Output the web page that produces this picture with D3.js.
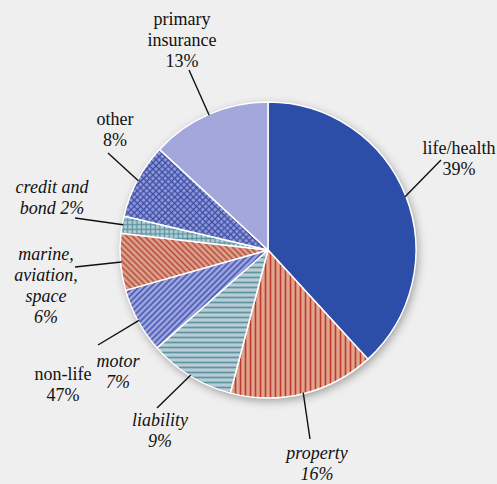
<!DOCTYPE html>
<html>
<head>
<meta charset="utf-8">
<script src="https://cdn.jsdelivr.net/npm/d3@7"></script>
<style>
  html, body { margin: 0; padding: 0; background: #efefef; }
  svg { display: block; }
  .lbl { font-family: "Liberation Serif", "Times New Roman", serif; font-size: 18px; fill: #111; }
  .leader { stroke: #111; stroke-width: 1.4; fill: none; }
</style>
</head>
<body>
<svg id="svg" width="497" height="484"></svg>
<script>
// --- Data ------------------------------------------------------------------
const segments = ["life/health", "property", "liability", "motor", "marine", "credit", "other", "primary"];
const shares = [38.2, 15.9, 9.4, 7.1, 6.2, 1.9, 8.2, 13.1];
const labelLines = [
  ["life/health", "39%"],
  ["property", "16%"],
  ["liability", "9%"],
  ["motor", "7%"],
  ["marine,", "aviation,", "space", "6%"],
  ["credit and", "bond 2%"],
  ["other", "8%"],
  ["primary", "insurance", "13%"]
];
const italicSegs = ["property", "liability", "motor", "marine", "credit"];
const groupLabel = ["non-life", "47%"];

// --- Layout ----------------------------------------------------------------
const W = 497, H = 484;
const cx = 268, cy = 250, R = 148;
// label anchor (center x, first baseline) and leader outer end
const labelPos = {
  "life/health": { x: 459, y: 154, lx: 441, ly: 160 },
  "property":    { x: 317, y: 459, lx: 310, ly: 439 },
  "liability":   { x: 160, y: 426, lx: 157, ly: 408 },
  "motor":       { x: 118, y: 367, lx: 98,  ly: 345 },
  "marine":      { x: 46,  y: 260, lx: 75,  ly: 267 },
  "credit":      { x: 52,  y: 193, lx: 75,  ly: 218 },
  "other":       { x: 115, y: 125, lx: 108, ly: 153 },
  "primary":     { x: 182, y: 25,  lx: 189, ly: 70 }
};
const groupPos = { x: 63, y: 380 };
const lineH = 21;

const svg = d3.select("#svg");
const defs = svg.append("defs");

// drop shadow
const f = defs.append("filter").attr("id", "shadow")
  .attr("x", "-20%").attr("y", "-20%").attr("width", "140%").attr("height", "140%");
f.append("feDropShadow").attr("dx", 2).attr("dy", 3).attr("stdDeviation", 5)
  .attr("flood-color", "#000").attr("flood-opacity", 0.35);

// hatch patterns
function linePattern(id, size, bg, fg, lw, rotate, grid) {
  const p = defs.append("pattern").attr("id", id)
    .attr("patternUnits", "userSpaceOnUse")
    .attr("width", size).attr("height", size);
  if (rotate) p.attr("patternTransform", `rotate(${rotate})`);
  p.append("rect").attr("width", size).attr("height", size).attr("fill", bg);
  p.append("line").attr("x1", size / 2).attr("x2", size / 2).attr("y1", 0).attr("y2", size)
    .attr("stroke", fg).attr("stroke-width", lw);
  if (grid) {
    p.append("line").attr("x1", 0).attr("x2", size).attr("y1", size / 2).attr("y2", size / 2)
      .attr("stroke", fg).attr("stroke-width", lw);
  }
}
linePattern("p-property", 5, "#dfa58f", "#c03a2c", 1.6, 0, false);
linePattern("p-liability", 5, "#b8ced4", "#5e93a3", 1.7, 90, false);
linePattern("p-motor", 4.2, "#a0a8e1", "#3d50a8", 1.5, 45, false);
linePattern("p-marine", 4.2, "#dca38d", "#b4473a", 1.5, -45, false);
linePattern("p-credit", 4.6, "#b5ced5", "#5b93a3", 1.3, 0, true);
linePattern("p-other", 4.4, "#939bda", "#3a4ca3", 1.3, 45, true);

const fills = {
  "life/health": "#2c4ea8",
  "property": "url(#p-property)",
  "liability": "url(#p-liability)",
  "motor": "url(#p-motor)",
  "marine": "url(#p-marine)",
  "credit": "url(#p-credit)",
  "other": "url(#p-other)",
  "primary": "#a3a7db"
};

// --- Pie -------------------------------------------------------------------
const data = segments.map((s, i) => ({ seg: s, value: shares[i], lines: labelLines[i] }));
const pie = d3.pie().sort(null).value(d => d.value);
const arcs = pie(data);
const arc = d3.arc().innerRadius(0).outerRadius(R);
const edge = d3.arc().innerRadius(R - 1).outerRadius(R - 1);

const g = svg.append("g").attr("transform", `translate(${cx},${cy})`);
g.append("circle").attr("r", R).attr("fill", "#fff").attr("filter", "url(#shadow)");
g.selectAll("path.slice")
  .data(arcs).enter()
  .append("path")
  .attr("class", "slice")
  .attr("d", arc)
  .attr("fill", d => fills[d.data.seg])
  .attr("stroke", "#fff")
  .attr("stroke-width", 1.5)
  .attr("stroke-linejoin", "round");

// leaders
g.selectAll("line.leader")
  .data(arcs).enter()
  .append("line")
  .attr("class", "leader")
  .attr("x1", d => edge.centroid(d)[0])
  .attr("y1", d => edge.centroid(d)[1])
  .attr("x2", d => labelPos[d.data.seg].lx - cx)
  .attr("y2", d => labelPos[d.data.seg].ly - cy);

// labels
const lbl = svg.append("g");
arcs.forEach(d => {
  const p = labelPos[d.data.seg];
  const t = lbl.append("text").attr("class", "lbl")
    .attr("text-anchor", "middle")
    .attr("font-style", italicSegs.includes(d.data.seg) ? "italic" : "normal");
  d.data.lines.forEach((s, i) => {
    t.append("tspan").attr("x", p.x).attr("y", p.y + i * lineH).text(s);
  });
});

const gt = lbl.append("text").attr("class", "lbl").attr("text-anchor", "middle");
groupLabel.forEach((s, i) => {
  gt.append("tspan").attr("x", groupPos.x).attr("y", groupPos.y + i * lineH).text(s);
});
</script>
</body>
</html>
